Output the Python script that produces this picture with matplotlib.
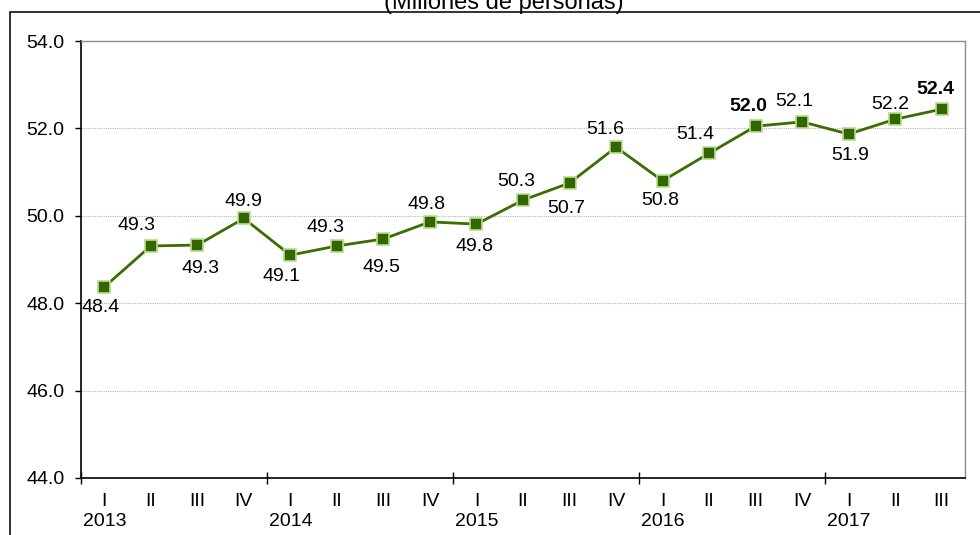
import matplotlib
matplotlib.use("Agg")
import matplotlib.pyplot as plt
from matplotlib.patches import Rectangle
import matplotlib.transforms as mtransforms

plt.rcParams['font.family'] = ['Liberation Sans', 'DejaVu Sans']

# ---- data ----
quarters = ["I", "II", "III", "IV"] * 4 + ["I", "II", "III"]
years = ["2013", "2014", "2015", "2016", "2017"]
values = [48.37, 49.31, 49.33, 49.94, 49.10, 49.31, 49.47, 49.86, 49.81, 50.36,
          50.75, 51.57, 50.80, 51.43, 52.05, 52.15, 51.87, 52.21, 52.44]
labels = ["48.4", "49.3", "49.3", "49.9", "49.1", "49.3", "49.5", "49.8", "49.8", "50.3",
          "50.7", "51.6", "50.8", "51.4", "52.0", "52.1", "51.9", "52.2", "52.4"]
bold_labels = [14, 18]
title = "(Millones de personas)"

# label offsets (pixels, dx, dy downward positive)
label_off = [(-4, 20), (-14, -20), (3, 23), (0, -17), (-9, 21), (-11, -18), (-2, 29),
             (-3, -17), (-2, 22), (-7, -19), (-3, 25), (-11, -18), (-2, 20), (-14, -19),
             (-7, -20), (-8, -20), (1, 21), (-5, -15), (-6, -20)]

FS = 14
W, H = 980, 535
fig = plt.figure(figsize=(W / 100, H / 100), dpi=100)
ax = fig.add_axes([81 / W, 1 - 478 / H, (965 - 81) / W, (478 - 41) / H])

# outer frame
fig.patches.append(Rectangle((10 / W, -0.2), 1.2, 1.2 - 12 / H, transform=fig.transFigure,
                             fill=False, edgecolor='#222222', linewidth=1.3, zorder=0))
fig.text(504 / W, 1 - 9 / H, title, ha='center', va='baseline', fontsize=17)

x = list(range(len(values)))
ax.plot(x, values, color='#3a6e00', linewidth=2.0, marker='s', markersize=8.3,
        markerfacecolor='#336600', markeredgecolor='#b7dd8f', markeredgewidth=1.2, zorder=3,
        clip_on=False)

for i, (v, lab) in enumerate(zip(values, labels)):
    dx, dy = label_off[i]
    ax.annotate(lab, xy=(i, v), xytext=(dx * 0.72, -dy * 0.72), textcoords='offset points',
                ha='center', va='center', fontsize=FS,
                fontweight='bold' if i in bold_labels else 'normal', zorder=4)

ax.set_xlim(-0.5, len(values) - 0.5)
ax.set_ylim(44, 54)
ax.set_yticks([44, 46, 48, 50, 52, 54])
ax.set_yticklabels([f"{t:.1f}" for t in [44, 46, 48, 50, 52, 54]])
ax.tick_params(axis='y', direction='out', length=4, width=1, pad=8, labelsize=FS, color='#000000')

for gy in [46, 48, 50, 52]:
    ax.axhline(gy, color='#b5b5b5', linestyle=(0, (1, 1)), linewidth=0.8, zorder=1)

# x axis: major ticks at year boundaries, minor tick labels for quarters
ax.set_xticks([-0.5 + 4 * k for k in range(5)])
ax.set_xticklabels([])
ax.tick_params(axis='x', which='major', direction='inout', length=8, width=1, color='#000000')
ax.set_xticks(x, minor=True)
ax.set_xticklabels(quarters, minor=True)
ax.tick_params(axis='x', which='minor', length=0, pad=10.5, labelsize=FS)

trans = mtransforms.blended_transform_factory(ax.transData, ax.transAxes)
for k, yr in enumerate(years):
    ax.annotate(yr, xy=(4 * k, 0), xycoords=trans, xytext=(0, -25.5), textcoords='offset points',
                ha='center', va='top', fontsize=FS)

for s in ['left', 'bottom']:
    ax.spines[s].set_color('#000000')
    ax.spines[s].set_linewidth(1.2)
for s in ['top', 'right']:
    ax.spines[s].set_color('#8c8c8c')
    ax.spines[s].set_linewidth(1.0)

fig.savefig("out.png", dpi=100)
